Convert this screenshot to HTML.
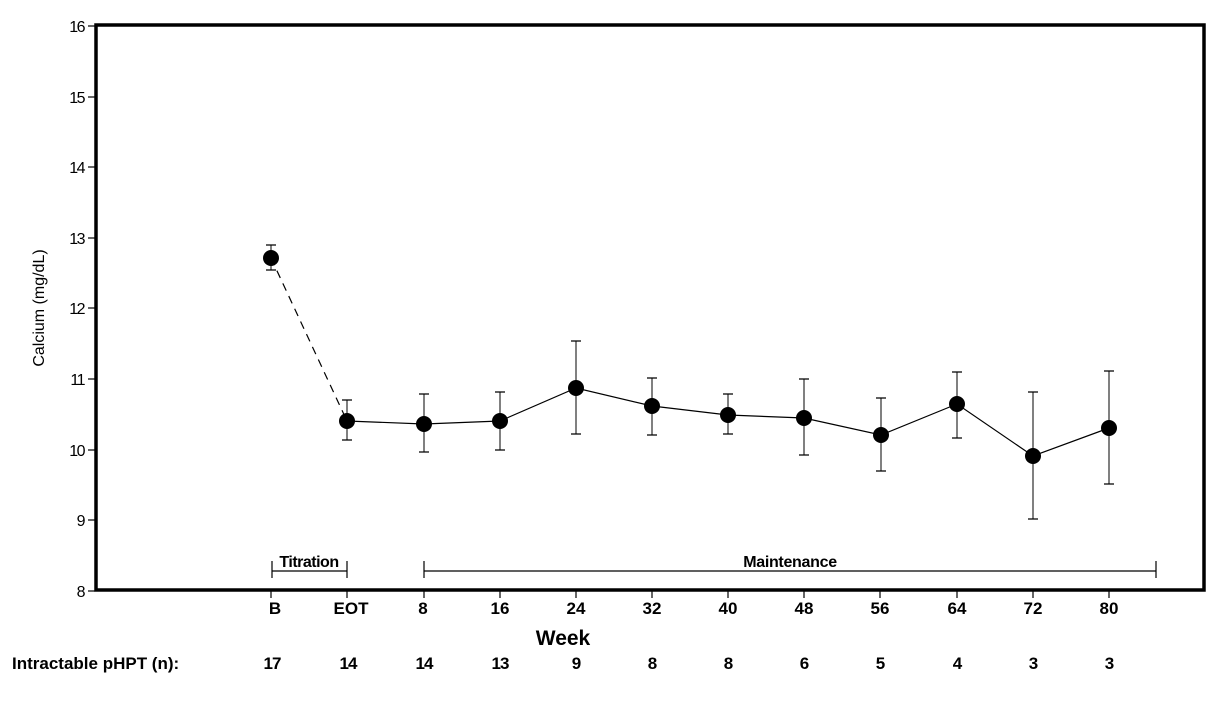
<!DOCTYPE html>
<html><head><style>
body{margin:0;background:#fff;}
svg{display:block;}
text{font-family:"Liberation Sans",Arial,sans-serif;fill:#000;}
</style></head><body>
<svg width="1220" height="702" viewBox="0 0 1220 702">
<rect x="96" y="25" width="1108" height="565" fill="none" stroke="#000" stroke-width="3.5"/>
<g stroke="#000" stroke-width="1.2">
<line x1="88" y1="26" x2="95" y2="26"/><line x1="88" y1="97" x2="95" y2="97"/>
<line x1="88" y1="167" x2="95" y2="167"/><line x1="88" y1="238" x2="95" y2="238"/>
<line x1="88" y1="308" x2="95" y2="308"/><line x1="88" y1="379" x2="95" y2="379"/>
<line x1="88" y1="450" x2="95" y2="450"/><line x1="88" y1="520" x2="95" y2="520"/>
<line x1="88" y1="591" x2="95" y2="591"/>
</g>
<g font-size="16" text-anchor="end" letter-spacing="-1.5">
<text x="84" y="32">16</text><text x="84" y="103">15</text><text x="84" y="173">14</text>
<text x="84" y="244">13</text><text x="84" y="314">12</text><text x="84" y="385">11</text>
<text x="84" y="456">10</text><text x="84" y="526">9</text><text x="84" y="597">8</text>
</g>
<text transform="translate(44,308) rotate(-90)" font-size="16" text-anchor="middle">Calcium  (mg/dL)</text>
<g stroke="#000" stroke-width="1.2">
<line x1="271" y1="591" x2="271" y2="598"/><line x1="347" y1="591" x2="347" y2="598"/>
<line x1="424" y1="591" x2="424" y2="598"/><line x1="500" y1="591" x2="500" y2="598"/>
<line x1="576" y1="591" x2="576" y2="598"/><line x1="652" y1="591" x2="652" y2="598"/>
<line x1="728" y1="591" x2="728" y2="598"/><line x1="804" y1="591" x2="804" y2="598"/>
<line x1="880" y1="591" x2="880" y2="598"/><line x1="957" y1="591" x2="957" y2="598"/>
<line x1="1033" y1="591" x2="1033" y2="598"/><line x1="1109" y1="591" x2="1109" y2="598"/>
<line x1="272" y1="571" x2="347" y2="571"/><line x1="272" y1="561" x2="272" y2="578"/><line x1="347" y1="561" x2="347" y2="578"/>
<line x1="424" y1="571" x2="1156" y2="571"/><line x1="424" y1="561" x2="424" y2="578"/><line x1="1156" y1="561" x2="1156" y2="578"/>
</g>
<text x="309" y="567" font-size="16" font-weight="bold" text-anchor="middle" letter-spacing="-0.5">Titration</text>
<text x="790" y="567" font-size="16" font-weight="bold" text-anchor="middle" letter-spacing="-0.3">Maintenance</text>
<g font-size="17" font-weight="bold" text-anchor="middle">
<text x="275" y="614">B</text><text x="351" y="614">EOT</text><text x="423" y="614">8</text>
<text x="500" y="614">16</text><text x="576" y="614">24</text><text x="652" y="614">32</text>
<text x="728" y="614">40</text><text x="804" y="614">48</text><text x="880" y="614">56</text>
<text x="957" y="614">64</text><text x="1033" y="614">72</text><text x="1109" y="614">80</text>
</g>
<text x="563" y="645" font-size="21" font-weight="bold" text-anchor="middle">Week</text>
<text x="12" y="669" font-size="17" font-weight="bold">Intractable  pHPT  (n):</text>
<g font-size="17" font-weight="bold" text-anchor="middle" letter-spacing="-1">
<text x="272" y="669">17</text><text x="348" y="669">14</text><text x="424" y="669">14</text>
<text x="500" y="669">13</text><text x="576" y="669">9</text><text x="652" y="669">8</text>
<text x="728" y="669">8</text><text x="804" y="669">6</text><text x="880" y="669">5</text>
<text x="957" y="669">4</text><text x="1033" y="669">3</text><text x="1109" y="669">3</text>
</g>
<g stroke="#555" stroke-width="1.5">
<line x1="271" y1="245" x2="271" y2="270"/><line x1="347" y1="400" x2="347" y2="440"/>
<line x1="424" y1="394" x2="424" y2="452"/><line x1="500" y1="392" x2="500" y2="450"/>
<line x1="576" y1="341" x2="576" y2="434"/><line x1="652" y1="378" x2="652" y2="435"/>
<line x1="728" y1="394" x2="728" y2="434"/><line x1="804" y1="379" x2="804" y2="455"/>
<line x1="881" y1="398" x2="881" y2="471"/><line x1="957" y1="372" x2="957" y2="438"/>
<line x1="1033" y1="392" x2="1033" y2="519"/><line x1="1109" y1="371" x2="1109" y2="484"/>
</g>
<g stroke="#000" stroke-width="1.3">
<path d="M266 245h10M266 270h10M342 400h10M342 440h10M419 394h10M419 452h10M495 392h10M495 450h10M571 341h10M571 434h10M647 378h10M647 435h10M723 394h10M723 434h10M799 379h10M799 455h10M876 398h10M876 471h10M952 372h10M952 438h10M1028 392h10M1028 519h10M1104 371h10M1104 484h10"/>
</g>
<line x1="271" y1="258" x2="347" y2="421" stroke="#000" stroke-width="1.2" stroke-dasharray="8,6"/>
<polyline fill="none" stroke="#000" stroke-width="1.2" points="347,421 424,424 500,421 576,388 652,406 728,415 804,418 881,435 957,404 1033,456 1109,428"/>
<g fill="#000">
<circle cx="271" cy="258" r="8"/><circle cx="347" cy="421" r="8"/><circle cx="424" cy="424" r="8"/>
<circle cx="500" cy="421" r="8"/><circle cx="576" cy="388" r="8"/><circle cx="652" cy="406" r="8"/>
<circle cx="728" cy="415" r="8"/><circle cx="804" cy="418" r="8"/><circle cx="881" cy="435" r="8"/>
<circle cx="957" cy="404" r="8"/><circle cx="1033" cy="456" r="8"/><circle cx="1109" cy="428" r="8"/>
</g>
</svg>
</body></html>
